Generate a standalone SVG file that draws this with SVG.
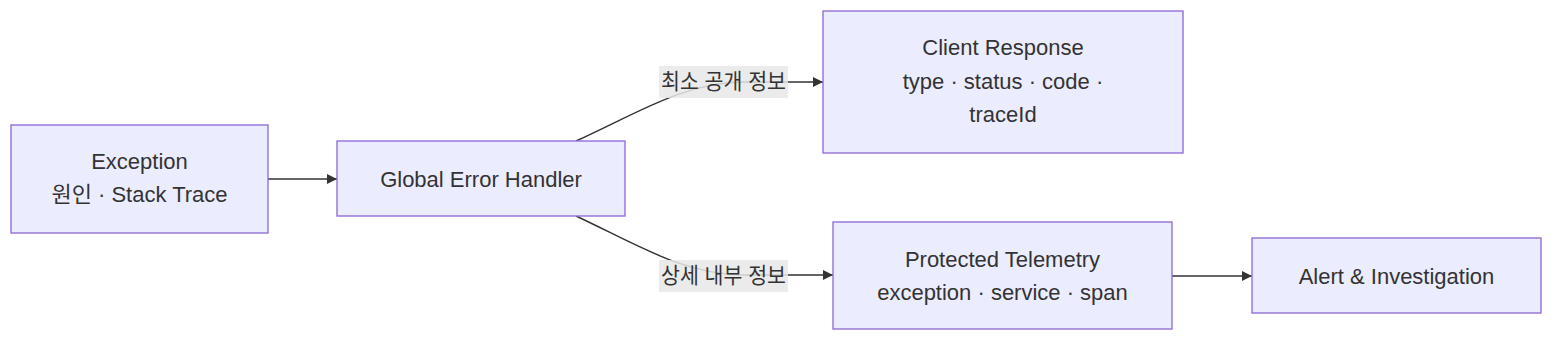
<svg xmlns="http://www.w3.org/2000/svg" width="1568" height="346" viewBox="0 0 1568 346">
<defs>
<marker id="arrow" viewBox="0 0 10 10" refX="10" refY="5" markerWidth="10" markerHeight="10" markerUnits="userSpaceOnUse" orient="auto">
<path d="M0,0 L10,5 L0,10 z" fill="#333333"/>
</marker>
<style>
.node rect{fill:#ECECFF;stroke:#9370DB;stroke-width:1.4px;}
.node text,.elabel text{font-family:"Liberation Sans","Noto Sans CJK KR",Arial,sans-serif;font-size:22px;fill:#333333;text-anchor:middle;}
.edge{fill:none;stroke:#333333;stroke-width:1.4px;marker-end:url(#arrow);}
.elabel rect{fill:#E8E8E8;fill-opacity:0.85;}
</style>
</defs>
<rect width="1568" height="346" fill="#ffffff"/>
<g id="connectors">
<path class="edge" d="M268,179 L337,179"/>
<path class="edge" d="M576,141 C636,114 684,82 744,82 L823,82"/>
<path class="edge" d="M576,216 C636,244 684,275 744,275 L833,275"/>
<path class="edge" d="M1172,276 L1252,276"/>
</g>
<g id="edge-labels">
<g class="elabel" id="label-public">
<rect x="659" y="66" width="129" height="32"/>
<text x="723.5" y="89" textLength="125" lengthAdjust="spacingAndGlyphs">최소 공개 정보</text>
</g>
<g class="elabel" id="label-internal">
<rect x="659" y="260" width="129" height="32"/>
<text x="723.5" y="283" textLength="125" lengthAdjust="spacingAndGlyphs">상세 내부 정보</text>
</g>
</g>
<g class="node" id="node-exception">
<rect x="11" y="125" width="257" height="108"/>
<text x="139.5" y="169">Exception</text>
<text x="139.5" y="202">원인 · Stack Trace</text>
</g>
<g class="node" id="node-handler">
<rect x="337" y="141" width="288" height="75"/>
<text x="481" y="187">Global Error Handler</text>
</g>
<g class="node" id="node-client">
<rect x="823" y="11" width="360" height="142"/>
<text x="1003" y="55">Client Response</text>
<text x="1003" y="89">type · status · code ·</text>
<text x="1003" y="122">traceId</text>
</g>
<g class="node" id="node-telemetry">
<rect x="833" y="222" width="339" height="107"/>
<text x="1002.5" y="267">Protected Telemetry</text>
<text x="1002.5" y="300">exception · service · span</text>
</g>
<g class="node" id="node-alert">
<rect x="1252" y="238" width="289" height="75"/>
<text x="1396.5" y="284">Alert &amp; Investigation</text>
</g>
</svg>
